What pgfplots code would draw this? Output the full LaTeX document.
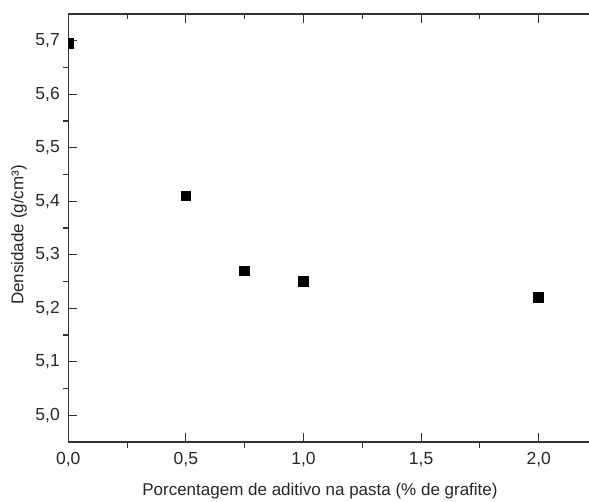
\documentclass[border=0pt]{standalone}
\usepackage{fontspec}
\setmainfont{Liberation Sans}
\usepackage{pgfplots}
\pgfplotsset{compat=1.18}
\definecolor{axc}{HTML}{333333}
\begin{document}
\begin{tikzpicture}
\pgfplotsset{
  common/.style={
    scale only axis, width=529.2pt, height=428pt,
    xmin=0, xmax=2.25, ymin=4.95, ymax=5.75,
    xtick={0,0.5,1,1.5,2}, ytick={5.0,5.1,5.2,5.3,5.4,5.5,5.6,5.7},
    at={(0,0)}, anchor=south west,
    every tick/.style={axc, line width=1.1pt},
    axis line style={axc, line width=1.3pt},
  }
}
% main axis: major ticks inside on all sides, labels bottom/left
\begin{axis}[common,
  xtick pos=both, ytick pos=both,
  xticklabel pos=left, yticklabel pos=left,
  tick align=inside, major tick length=9pt,
  /pgf/number format/assume math mode=true,
  /pgf/number format/use comma, /pgf/number format/fixed,
  /pgf/number format/fixed zerofill, /pgf/number format/precision=1,
  tick label style={font=\fontsize{17.5}{20}\selectfont, black!85},
  xticklabel style={yshift=-7pt},
  yticklabel style={xshift=-5pt},
  xlabel={Porcentagem de aditivo na pasta (\% de grafite)},
  ylabel={Densidade (g/cm³)},
  every axis x label/.style={at={(axis description cs:0.4756,0)}, anchor=base, yshift=-53.7pt, font=\fontsize{17}{20}\selectfont, text=black!85},
  every axis y label/.style={at={(axis description cs:0,0.4836)}, xshift=-44.8pt, anchor=base, rotate=90, font=\fontsize{17}{20}\selectfont, text=black!85},
  clip marker paths=true,
]
\addplot[only marks, mark=square*, mark size=4.8pt, mark options={fill=black, draw=black, line width=0pt}]
  coordinates {(0,5.695) (0.5,5.41) (0.75,5.27) (1.0,5.25) (2.0,5.22)};
\end{axis}
% minor ticks top/right, inside
\begin{axis}[common,
  xtick pos=right, ytick pos=right, tick align=inside,
  minor tick num=1, major tick length=0pt, minor tick length=4.5pt,
  xticklabels={}, yticklabels={}, axis line style={draw=none},
]
\end{axis}
% minor ticks bottom/left, outside
\begin{axis}[common,
  xtick pos=left, ytick pos=left, tick align=outside,
  minor tick num=1, major tick length=0pt, minor tick length=5.5pt,
  xticklabels={}, yticklabels={}, axis line style={draw=none},
]
\end{axis}
\pgfresetboundingbox
\path[use as bounding box] (-68.3pt,-59pt) rectangle (520.7pt,442pt);
\end{tikzpicture}
\end{document}
